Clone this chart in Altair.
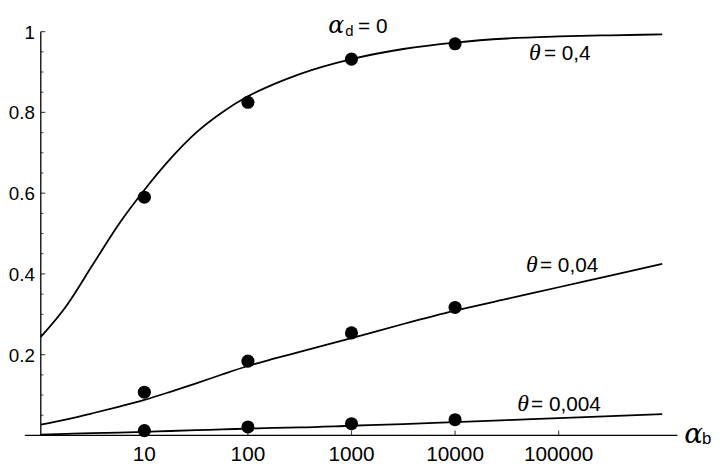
import altair as alt
import pandas as pd

# ---- data ----
alpha_b_curve = [1, 1.78, 3.16, 5.62, 10, 17.8, 31.6, 56.2, 100, 178, 316,
                 1000, 3162, 10000, 31623, 100000, 316228, 1000000]
p_curve_04 = [0.244, 0.322, 0.422, 0.522, 0.608, 0.685, 0.750, 0.800, 0.840,
              0.870, 0.895, 0.932, 0.957, 0.973, 0.983, 0.988, 0.991, 0.993]
p_curve_004 = [0.027, 0.040, 0.055, 0.071, 0.088, 0.108, 0.129, 0.151, 0.172,
               0.190, 0.207, 0.241, 0.276, 0.309, 0.338, 0.367, 0.396, 0.425]
p_curve_0004 = [0.002, 0.004, 0.006, 0.007, 0.009, 0.011, 0.013, 0.015, 0.017,
                0.019, 0.020, 0.024, 0.028, 0.033, 0.038, 0.043, 0.048, 0.053]

alpha_b_points = [10, 100, 1000, 10000]
p_points_04 = [0.590, 0.825, 0.932, 0.970]
p_points_004 = [0.107, 0.184, 0.254, 0.317]
p_points_0004 = [0.012, 0.021, 0.029, 0.039]

x_tick_values = [10, 100, 1000, 10000, 100000]
y_label_values = [0.2, 0.4, 0.6, 0.8, 1.0]
y_minor_values = [0.05, 0.1, 0.15, 0.25, 0.3, 0.35, 0.45, 0.5, 0.55,
                  0.65, 0.7, 0.75, 0.85, 0.9, 0.95]

curves = pd.concat([
    pd.DataFrame({"alpha_b": alpha_b_curve, "p": p_curve_04, "theta": "0,4"}),
    pd.DataFrame({"alpha_b": alpha_b_curve, "p": p_curve_004, "theta": "0,04"}),
    pd.DataFrame({"alpha_b": alpha_b_curve, "p": p_curve_0004, "theta": "0,004"}),
])
points = pd.concat([
    pd.DataFrame({"alpha_b": alpha_b_points, "p": p_points_04, "theta": "0,4"}),
    pd.DataFrame({"alpha_b": alpha_b_points, "p": p_points_004, "theta": "0,04"}),
    pd.DataFrame({"alpha_b": alpha_b_points, "p": p_points_0004, "theta": "0,004"}),
])

SANS = "Liberation Sans"
SERIF = "Liberation Serif"
GREEK = "DejaVu Serif"
W, H = 660, 408.4

x_scale = alt.Scale(type="log", domain=[0.701, 1.402e6], nice=False)
y_scale = alt.Scale(domain=[0, 1], nice=False)

lines = alt.Chart(curves).mark_line(color="black", strokeWidth=1.8,
                                    interpolate="monotone").encode(
    x=alt.X("alpha_b:Q", scale=x_scale, axis=None),
    y=alt.Y("p:Q", scale=y_scale, axis=None),
    detail="theta:N",
)

dots = alt.Chart(points).mark_circle(color="black", opacity=1, size=175).encode(
    x=alt.X("alpha_b:Q", axis=None),
    y=alt.Y("p:Q", axis=None),
)

# axes drawn by hand (ticks point inward, as in the reference)
x_axis_line = alt.Chart(pd.DataFrame({"v": [0]})).mark_rule(
    color="black", strokeWidth=1.3
).encode(x=alt.value(0), x2=alt.value(W), y=alt.Y("v:Q", axis=None))

y_axis_line = alt.Chart(pd.DataFrame({"a": [1], "lo": [0], "hi": [1]})).mark_rule(
    color="black", strokeWidth=1.3
).encode(x=alt.X("a:Q", axis=None), y=alt.Y("lo:Q", axis=None), y2="hi:Q")

xticks = alt.Chart(pd.DataFrame({"v": x_tick_values})).mark_tick(
    orient="vertical", size=5, thickness=1.2, color="black", yOffset=-2.5
).encode(x=alt.X("v:Q", axis=None), y=alt.YDatum(0, axis=None))

yticks_major = alt.Chart(pd.DataFrame({"v": y_label_values})).mark_tick(
    orient="horizontal", size=4.5, thickness=1.2, color="black", xOffset=2.25
).encode(y=alt.Y("v:Q", axis=None), x=alt.XDatum(1, axis=None))

yticks_minor = alt.Chart(pd.DataFrame({"v": y_minor_values})).mark_tick(
    orient="horizontal", size=2.8, thickness=1.0, color="black", xOffset=1.4
).encode(y=alt.Y("v:Q", axis=None), x=alt.XDatum(1, axis=None))

xlabels = alt.Chart(pd.DataFrame({"v": x_tick_values})).transform_calculate(
    lab="format(datum.v, 'd')"
).mark_text(font=SANS, fontSize=21, color="black", align="center",
            baseline="alphabetic", dy=26.3).encode(
    x=alt.X("v:Q", axis=None), y=alt.YDatum(0, axis=None), text="lab:N")

ylabels = alt.Chart(pd.DataFrame({"v": y_label_values})).transform_calculate(
    lab="format(datum.v, '~g')"
).mark_text(font=SANS, fontSize=19, color="black", align="right",
            baseline="alphabetic", dx=-6, dy=7).encode(
    y=alt.Y("v:Q", axis=None), x=alt.XDatum(1, axis=None), text="lab:N")


def label(text, x, y, font=SANS, size=21, style="normal"):
    return alt.Chart(pd.DataFrame({"t": [text]})).mark_text(
        align="left", baseline="alphabetic", font=font, fontSize=size,
        fontStyle=style, color="black"
    ).encode(x=alt.value(x), y=alt.value(y), text="t:N")


annotations = [
    # title  alpha_d = 0
    label("α", 307, 1.0, GREEK, 24, "italic"),
    label("d", 324, 4.0, SANS, 15),
    label("= 0", 337, 1.0, SANS, 21),
    # axis label alpha_b
    label("α", 667, 415.7, GREEK, 28, "italic"),
    label("b", 685, 416.7, SANS, 17),
    # theta labels
    label("θ", 510, 28.7, SERIF, 24, "italic"),
    label("= 0,4", 525, 28.7, SANS, 21),
    label("θ", 507, 242.7, SERIF, 24, "italic"),
    label("= 0,04", 521, 242.7, SANS, 21),
    label("θ", 498, 383.7, SERIF, 24, "italic"),
    label("= 0,004", 512, 383.7, SANS, 21),
]

chart = alt.layer(lines, dots, x_axis_line, y_axis_line, xticks,
                  yticks_major, yticks_minor, xlabels, ylabels,
                  *annotations).properties(
    width=W, height=H,
    autosize=alt.AutoSizeParams(type="none"),
    padding={"left": 17, "top": 21.3, "right": 35, "bottom": 29.3},
).configure_view(stroke=None)

chart.save("out.html", embed_options={"renderer": "svg", "actions": False})
